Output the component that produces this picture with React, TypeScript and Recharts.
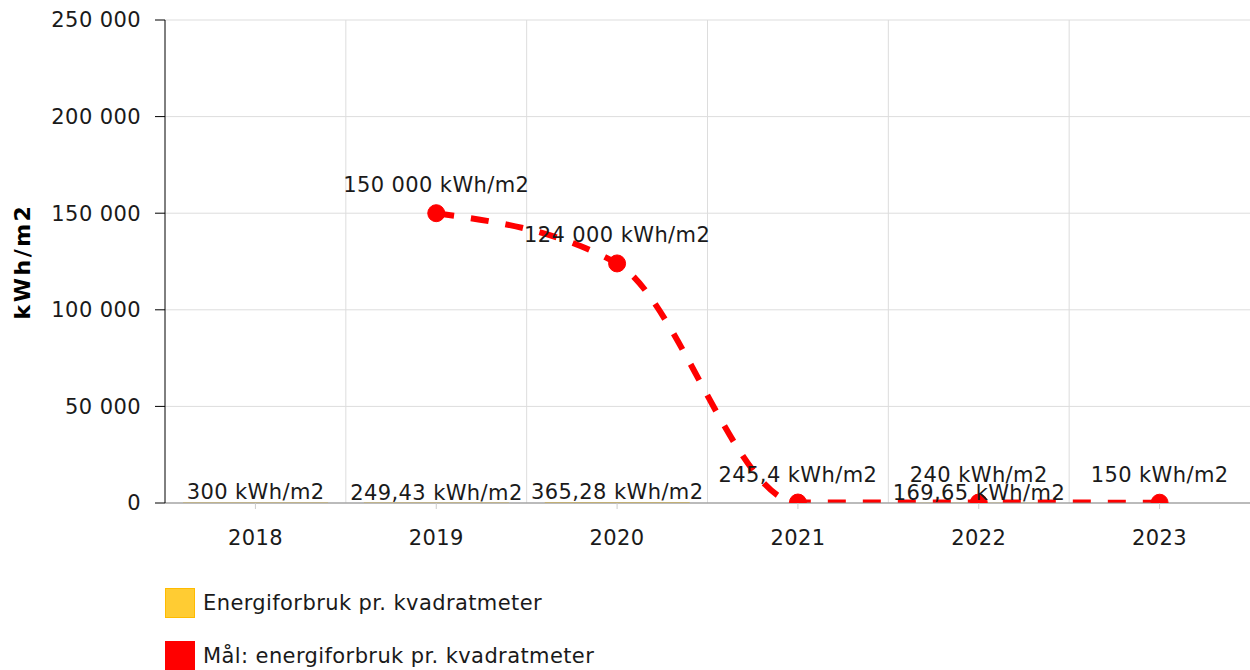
import React from 'react';
import { ComposedChart, Bar, Line, XAxis, YAxis, CartesianGrid, LabelList } from 'recharts';

const years = ['2018', '2019', '2020', '2021', '2022', '2023'];
const forbruk: (number | null)[] = [300, 249.43, 365.28, null, 169.65, null];
const maal: (number | null)[] = [null, 150000, 124000, 245.4, 240, 150];
const yTicks = [0, 50000, 100000, 150000, 200000, 250000];

const data = years.map((year, i) => ({ year, forbruk: forbruk[i], maal: maal[i] }));

const FONT = '"DejaVu Sans", Verdana, sans-serif';
const FONT_SIZE = 21;
const SPACING = '0.4px';

// norsk tallformat: mellomrom som tusenskille, komma som desimaltegn
const fmtNum = (v: number) => {
  const [int, dec] = String(v).split('.');
  const grouped = int.replace(/\B(?=(\d{3})+(?!\d))/g, ' ');
  return dec ? `${grouped},${dec}` : grouped;
};
const fmtLabel = (v: any) => (v == null ? '' : `${fmtNum(Number(v))} kWh/m2`);

const legendItems = [
  { name: 'Energiforbruk pr. kvadratmeter', fill: '#ffcc33', stroke: '#ffbb00' },
  { name: 'Mål: energiforbruk pr. kvadratmeter', fill: '#ff0000', stroke: '#ff0000' },
];

const textStyle = { letterSpacing: SPACING };

export default function App() {
  return (
    <div style={{ position: 'absolute', left: 0, top: 0, width: 1250, height: 670, fontFamily: FONT, overflow: 'hidden' }}>
      <ComposedChart
        width={1250}
        height={670}
        data={data}
        margin={{ top: 20, right: 0, left: 0, bottom: 107 }}
        style={{ fontFamily: FONT }}
      >
        <CartesianGrid
          stroke="#dddddd"
          verticalCoordinatesGenerator={({ offset }: any) =>
            years.slice(1).map((_, i) => offset.left + ((i + 1) * offset.width) / years.length)
          }
        />
        <XAxis
          dataKey="year"
          height={60}
          tickSize={6}
          tickMargin={21}
          axisLine={{ stroke: '#888888' }}
          tickLine={{ stroke: '#cccccc' }}
          tick={{ fill: '#1a1a1a', fontSize: FONT_SIZE, style: textStyle }}
        />
        <YAxis
          width={165}
          domain={[0, 250000]}
          ticks={yTicks}
          allowDataOverflow
          tickFormatter={fmtNum}
          tickSize={10}
          tickMargin={14}
          axisLine={{ stroke: '#000' }}
          tickLine={{ stroke: '#000' }}
          tick={{ fill: '#1a1a1a', fontSize: FONT_SIZE, style: textStyle }}
          label={{
            value: 'kWh/m2',
            angle: -90,
            position: 'insideLeft',
            offset: 22,
            style: { textAnchor: 'middle', fontWeight: 'bold', fontSize: 22, letterSpacing: '2.5px', fill: '#000' },
          }}
        />
        <Bar dataKey="forbruk" fill="#ffcc33" isAnimationActive={false}>
          <LabelList
            dataKey="forbruk"
            position="top"
            offset={3}
            formatter={fmtLabel}
            fill="#1a1a1a"
            fontSize={FONT_SIZE}
            style={textStyle}
          />
        </Bar>
        <Line
          dataKey="maal"
          type="monotone"
          stroke="#ff0000"
          strokeWidth={6}
          strokeDasharray="18 17"
          dot={{ r: 8.5, fill: '#ff0000', stroke: '#ff0000', strokeWidth: 1, strokeDasharray: '' }}
          activeDot={false}
          isAnimationActive={false}
        >
          <LabelList
            dataKey="maal"
            position="top"
            offset={21}
            formatter={fmtLabel}
            fill="#1a1a1a"
            fontSize={FONT_SIZE}
            style={textStyle}
          />
        </Line>
      </ComposedChart>
      <div style={{ position: 'absolute', left: 165, top: 588 }}>
        {legendItems.map((it) => (
          <div key={it.name} style={{ display: 'flex', alignItems: 'center', height: 30, marginBottom: 23 }}>
            <span
              style={{
                width: 28,
                height: 28,
                background: it.fill,
                border: `1px solid ${it.stroke}`,
                display: 'inline-block',
                marginRight: 8,
              }}
            />
            <span style={{ fontSize: FONT_SIZE, color: '#1a1a1a', letterSpacing: SPACING }}>{it.name}</span>
          </div>
        ))}
      </div>
    </div>
  );
}
